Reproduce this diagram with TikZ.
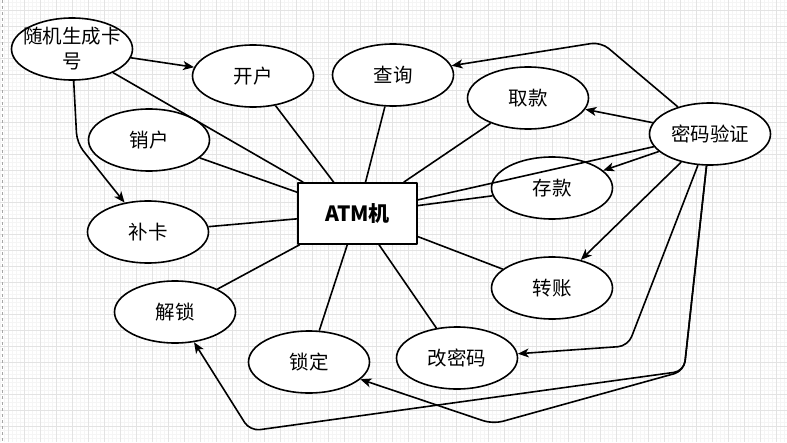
\documentclass[tikz,border=0pt]{standalone}
\usepackage{fontspec}
\setmainfont{Noto Sans CJK SC}
\usetikzlibrary{shapes.geometric, arrows.meta, positioning}

\begin{document}
\begin{tikzpicture}[x=1pt, y=-1pt, line width=1.6pt, line join=round,
    >={Stealth[length=11pt, width=9pt, inset=3pt]},
    func/.style={ellipse, draw, fill=white, minimum width=121pt, minimum height=62pt, inner sep=0pt, font=\fontsize{19.5}{25}\selectfont},
    minorgrid/.style={line width=0.4pt, black!4},
    majorgrid/.style={line width=0.8pt, black!11}]
    % Background grid
    \fill[white] (0,0) rectangle (787,442);
    \useasboundingbox (0,0) rectangle (787,442);
    \foreach \x in {0,4,...,784} \draw[minorgrid] (\x,0) -- (\x,442);
    \foreach \y in {2,6,...,440} \draw[minorgrid] (0,\y) -- (787,\y);
    \foreach \x in {8,24,...,780} \draw[majorgrid] (\x,0) -- (\x,442);
    \foreach \y in {10,26,...,440} \draw[majorgrid] (0,\y) -- (787,\y);
    \draw[black!35, dashed, line width=0.8pt] (2.5,0) -- (2.5,442);

    % Nodes
    \node (ATM) [rectangle, draw, fill=white, minimum width=119pt, minimum height=61pt, font=\bfseries\fontsize{21}{24}\selectfont] at (357.5,213.5) {ATM机};
    \node (Random) [func, label={[align=center, inner sep=0pt, font=\fontsize{19.5}{25}\selectfont]center:{随机生成卡\\号}}] at (72,49) {};
    \node (Open) [func] at (253,76) {开户};
    \node (Query) [func] at (393,75) {查询};
    \node (Close) [func] at (149,140) {销户};
    \node (Withdraw) [func] at (528,98) {取款};
    \node (Password) [func] at (710,134) {密码验证};
    \node (Deposit) [func] at (552,188) {存款};
    \node (Reissue) [func] at (148,232) {补卡};
    \node (Transfer) [func] at (552,288) {转账};
    \node (Unlock) [func] at (175,312) {解锁};
    \node (Lock) [func] at (309,362) {锁定};
    \node (ChangePwd) [func] at (457,358) {改密码};

    % Edges
    \foreach \f in {Random, Open, Query, Close, Withdraw, Password, Deposit, Reissue, Transfer, Unlock, Lock, ChangePwd}
        \draw (ATM) -- (\f);
    \draw[->] (Random) -- (Open);
    \draw[->, rounded corners=10pt] (Random) -- (77,143) -- (Reissue);
    \draw[->, rounded corners=10pt] (Password) -- (601,42) -- (Query);
    \draw[->] (Password) -- (Withdraw);
    \draw[->] (Password) -- (Deposit);
    \draw[->] (Password) -- (Transfer);
    \draw[->, rounded corners=10pt] (Password) -- (628,346) -- (ChangePwd);
    \draw[->, rounded corners=10pt] (Password) -- (684,371) -- (493,424) -- (Lock);
    \draw[->, rounded corners=10pt] (Password) -- (684,371) -- (250,431) -- (Unlock);
\end{tikzpicture}
\end{document}
